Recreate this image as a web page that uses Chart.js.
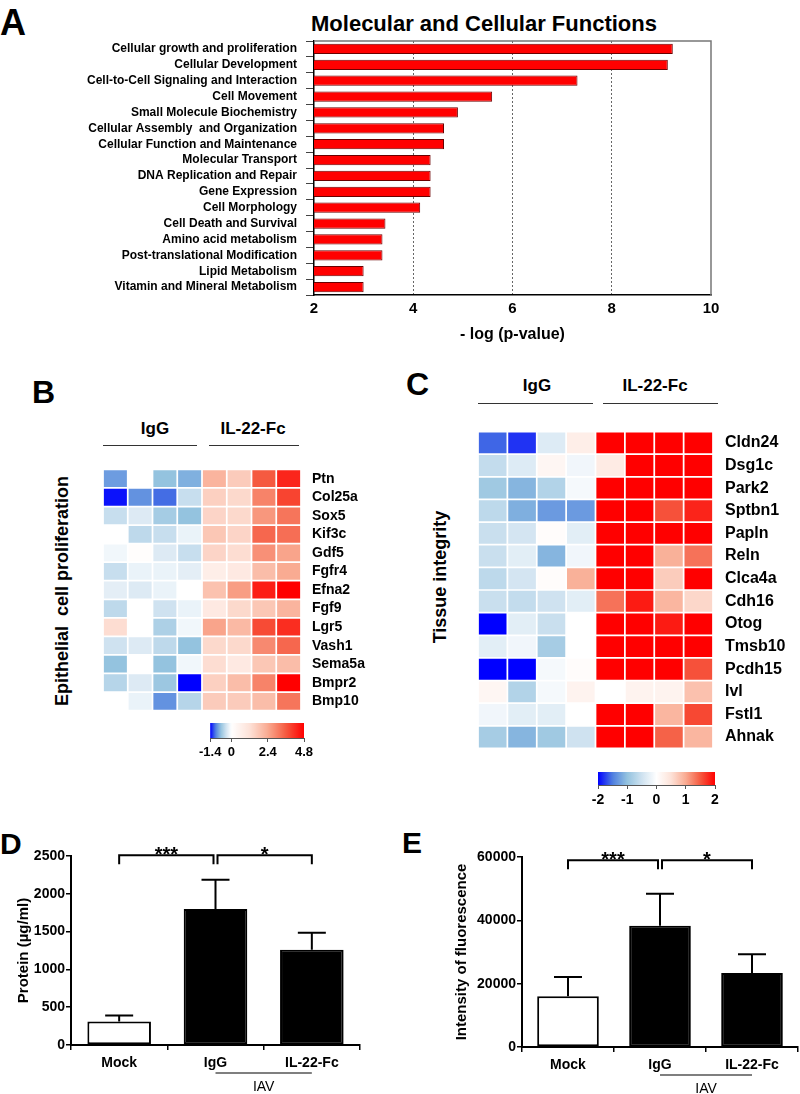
<!DOCTYPE html>
<html>
<head>
<meta charset="utf-8">
<script src="https://cdn.jsdelivr.net/npm/chart.js@4.4.1/dist/chart.umd.min.js"></script>
<style>
  body { margin: 0; background: #fff; }
  #page { position: relative; width: 800px; height: 1094px; overflow: hidden;
          font-family: 'Liberation Sans', Arial, sans-serif; color: #000; }
  canvas { position: absolute; }
  .t { position: absolute; white-space: nowrap; line-height: 1; font-weight: bold; }
  .c { transform: translate(-50%, -50%); }
  .r { transform: translate(-50%, -50%) rotate(-90deg); }
  .ln { position: absolute; height: 0; border-top: 1.5px solid #333; }
</style>
</head>
<body>
<div id="page">
  <!-- panel letters -->
  <div class="t" style="left:0;top:5px;font-size:36px">A</div>
  <div class="t" style="left:32px;top:376px;font-size:32px">B</div>
  <div class="t" style="left:406px;top:368px;font-size:32px">C</div>
  <div class="t" style="left:0;top:829px;font-size:30px">D</div>
  <div class="t" style="left:402px;top:828px;font-size:30px">E</div>

  <!-- A -->
  <div class="t c" style="left:484px;top:24px;font-size:22px">Molecular and Cellular Functions</div>
  <canvas id="chartA" width="800" height="345" style="left:0;top:0"></canvas>

  <!-- B -->
  <div class="t c" style="left:155px;top:428px;font-size:17px">IgG</div>
  <div class="t c" style="left:253px;top:428px;font-size:17px">IL-22-Fc</div>
  <div class="ln" style="left:103px;top:445px;width:94px"></div>
  <div class="ln" style="left:209px;top:445px;width:90px"></div>
  <div class="t r" style="left:62px;top:591px;font-size:18px">Epithelial&nbsp; cell proliferation</div>
  <canvas id="heatB" width="400" height="280" style="left:0;top:450px"></canvas>
  <canvas id="barB" width="124" height="42" style="left:196px;top:723px"></canvas>

  <!-- C -->
  <div class="t c" style="left:537px;top:385px;font-size:17px">IgG</div>
  <div class="t c" style="left:655px;top:385px;font-size:17px">IL-22-Fc</div>
  <div class="ln" style="left:478px;top:403px;width:115px"></div>
  <div class="ln" style="left:603px;top:403px;width:115px"></div>
  <div class="t r" style="left:440px;top:577px;font-size:18px">Tissue integrity</div>
  <canvas id="heatC" width="400" height="360" style="left:400px;top:410px"></canvas>
  <canvas id="barC" width="140" height="40" style="left:588px;top:772px"></canvas>

  <!-- D, E -->
  <canvas id="chartD" width="400" height="264" style="left:0;top:830px"></canvas>
  <canvas id="chartE" width="360" height="264" style="left:440px;top:830px"></canvas>
</div>

<script>
// ---- data ----
const functionNames = [
  'Cellular growth and proliferation', 'Cellular Development', 'Cell-to-Cell Signaling and Interaction',
  'Cell Movement', 'Small Molecule Biochemistry', 'Cellular Assembly  and Organization',
  'Cellular Function and Maintenance', 'Molecular Transport', 'DNA Replication and Repair',
  'Gene Expression', 'Cell Morphology', 'Cell Death and Survival', 'Amino acid metabolism',
  'Post-translational Modification', 'Lipid Metabolism', 'Vitamin and Mineral Metabolism'
];
const logPValues = [9.23, 9.13, 7.31, 5.59, 4.90, 4.62, 4.62, 4.35, 4.35, 4.35, 4.14, 3.44, 3.38, 3.38, 3.00, 3.00];
const logPTicks = [2, 10];

// columns: 4 x IgG, 4 x IL-22-Fc
const prolifGenes = ['Ptn', 'Col25a', 'Sox5', 'Kif3c', 'Gdf5', 'Fgfr4', 'Efna2', 'Fgf9', 'Lgr5', 'Vash1', 'Sema5a', 'Bmpr2', 'Bmp10'];
const prolifValues = [
  [-0.9, 0, -0.7, -0.8, 2.2, 1.7, 3.6, 4.3],
  [-1.35, -0.95, -1.1, -0.4, 1.6, 1.4, 3.0, 3.9],
  [-0.4, -0.25, -0.6, -0.7, 1.5, 1.4, 2.7, 3.2],
  [0, -0.45, -0.4, -0.15, 1.8, 1.5, 3.4, 3.3],
  [-0.1, 0.1, -0.25, -0.4, 1.5, 1.3, 2.8, 2.5],
  [-0.4, -0.15, -0.15, -0.2, 0.7, 0.9, 2.0, 2.4],
  [-0.2, -0.25, -0.15, 0, 1.9, 2.6, 4.4, 4.8],
  [-0.45, 0, -0.35, -0.15, 0.9, 1.4, 1.8, 2.2],
  [1.3, 0, -0.55, -0.1, 2.5, 2.1, 3.8, 4.2],
  [-0.35, -0.25, -0.45, -0.7, 1.4, 1.4, 2.9, 3.4],
  [-0.7, 0, -0.7, -0.1, 1.3, 0.9, 1.8, 2.0],
  [-0.5, -0.25, -0.65, -1.4, 1.6, 2.0, 3.0, 4.8],
  [0, -0.15, -0.95, -0.5, 1.7, 1.7, 2.0, 3.2]
];
const prolifRange = [-1.4, 4.8];
const prolifTicks = [-1.4, 0, 2.4, 4.8];

const integrityGenes = ['Cldn24', 'Dsg1c', 'Park2', 'Sptbn1', 'Papln', 'Reln', 'Clca4a', 'Cdh16', 'Otog', 'Tmsb10', 'Pcdh15', 'Ivl', 'Fstl1', 'Ahnak'];
const integrityValues = [
  [-1.6, -1.8, -0.35, 0.3, 2, 2, 2, 2],
  [-0.6, -0.35, 0.15, -0.15, 0.35, 2, 2, 2],
  [-0.9, -1.1, -0.75, -0.1, 2, 2, 2, 2],
  [-0.65, -1.15, -1.3, -1.3, 2, 2, 1.55, 1.8],
  [-0.55, -0.45, 0.05, -0.3, 2, 2, 2, 2],
  [-0.55, -0.3, -1.1, -0.15, 2, 2, 0.95, 1.35],
  [-0.65, -0.45, 0.05, 0.95, 2, 2, 0.7, 2],
  [-0.55, -0.6, -0.5, -0.3, 1.35, 1.85, 0.9, 0.6],
  [-2, -0.3, -0.55, 0, 2, 2, 1.85, 2],
  [-0.3, -0.15, -0.85, 0, 2, 2, 2, 2],
  [-2, -2, -0.1, 0.05, 2, 2, 2, 1.55],
  [0.15, -0.75, -0.1, 0.2, 0, 0.2, 0.2, 0.8],
  [-0.15, -0.3, -0.3, 0, 2, 2, 0.9, 1.6],
  [-0.85, -1.1, -0.9, -0.5, 2, 2, 1.45, 0.9]
];
const integrityRange = [-2, 2];
const integrityTicks = [-2, -1, 0, 1, 2];

const groups = ['Mock', 'IgG', 'IL-22-Fc'];
const proteinMean = [310, 1800, 1260];
const proteinErr = [80, 385, 225];
const fluorMean = [16000, 38300, 23400];
const fluorErr = [6100, 10100, 5900];
const comparisons = [[0, 1, '***'], [1, 2, '*']];

// ---- helpers ----
const FONT = "'Liberation Sans', Arial, sans-serif";
Chart.defaults.font.family = FONT;
Chart.defaults.color = '#000';

const heatStops = [
  [-1, [0, 0, 255]], [-0.75, [79, 127, 224]], [-0.5, [148, 195, 223]], [-0.25, [207, 226, 240]],
  [0, [255, 255, 255]], [0.25, [253, 226, 216]], [0.5, [249, 171, 146]], [0.75, [245, 90, 64]], [1, [255, 0, 0]]
];

function heatColor(v, lo, hi) {
  let t = v < 0 ? v / Math.abs(lo) : v / hi;
  t = Math.max(-1, Math.min(1, t));
  for (let i = 1; i < heatStops.length; i++) {
    const [t1, c1] = heatStops[i];
    const [t0, c0] = heatStops[i - 1];
    if (t <= t1) {
      const f = (t - t0) / (t1 - t0);
      const c = c0.map((x, k) => Math.round(x + (c1[k] - x) * f));
      return `rgb(${c[0]},${c[1]},${c[2]})`;
    }
  }
  return 'rgb(255,0,0)';
}

const noPlugins = { legend: { display: false }, tooltip: { enabled: false } };
const plainNumber = v => String(v);

// ---- A: horizontal bars ----
const frameA = {
  id: 'frameA',
  afterDraw(chart) {
    const { ctx, chartArea: { left, right, top, bottom } } = chart;
    ctx.save();
    ctx.strokeStyle = '#777';
    ctx.lineWidth = 1.5;
    ctx.beginPath();
    ctx.moveTo(left, top);
    ctx.lineTo(right, top);
    ctx.lineTo(right, bottom);
    ctx.stroke();
    ctx.restore();
  }
};

new Chart(document.getElementById('chartA'), {
  type: 'bar',
  data: {
    labels: functionNames,
    datasets: [{
      data: logPValues,
      backgroundColor: '#ff0000',
      borderColor: '#6a0000',
      borderWidth: 1,
      borderSkipped: false,
      barPercentage: 0.64,
      categoryPercentage: 1
    }]
  },
  options: {
    indexAxis: 'y',
    responsive: false,
    animation: false,
    layout: { padding: { top: 41, right: 89, left: 0, bottom: 0 } },
    plugins: noPlugins,
    scales: {
      x: {
        min: 2, max: 10,
        ticks: { stepSize: 2, font: { weight: 'bold', size: 15 }, padding: 5 },
        grid: {
          drawTicks: false,
          color: ctx => logPTicks.includes(ctx.tick && ctx.tick.value) ? 'rgba(0,0,0,0)' : '#666',
          lineWidth: 1
        },
        border: { display: true, color: '#000', width: 1.5, dash: [2, 2] },
        title: { display: true, text: '- log (p-value)', font: { weight: 'bold', size: 16 }, padding: { top: 0, bottom: 1 } },
        afterFit: s => { s.height = 50; }
      },
      y: {
        ticks: { font: { weight: 'bold', size: 12 }, padding: 9, autoSkip: false },
        grid: { drawOnChartArea: false, drawTicks: true, tickLength: 8, color: '#444' },
        border: { display: true, color: '#000', width: 1.5 },
        afterFit: s => { s.width = 314; }
      }
    }
  },
  plugins: [frameA]
});

// ---- B, C: heatmaps as stacked cell bars ----
function drawHeatmap(id, genes, values, range, cfg) {
  const datasets = values[0].map((_, j) => ({
    data: genes.map(() => 1),
    backgroundColor: values.map(row => heatColor(row[j], range[0], range[1])),
    borderColor: '#fff',
    borderWidth: 1.2,
    borderSkipped: false,
    barPercentage: 1,
    categoryPercentage: 1
  }));
  new Chart(document.getElementById(id), {
    type: 'bar',
    data: { labels: genes, datasets },
    options: {
      indexAxis: 'y',
      responsive: false,
      animation: false,
      layout: { padding: cfg.padding },
      plugins: noPlugins,
      scales: {
        x: { stacked: true, display: false, min: 0, max: values[0].length },
        y: {
          stacked: true,
          position: 'right',
          grid: { display: false, drawTicks: false },
          border: { display: false },
          ticks: { font: { weight: 'bold', size: cfg.fontSize }, padding: cfg.labelPad, autoSkip: false },
          afterFit: s => { s.width = cfg.axisWidth; }
        }
      }
    }
  });
}

const gradientFill = {
  id: 'gradientFill',
  beforeDatasetsDraw(chart) {
    const { ctx, chartArea: { left, right, top, bottom }, scales: { x } } = chart;
    const g = ctx.createLinearGradient(left, 0, right, 0);
    const n = 60;
    for (let k = 0; k <= n; k++) {
      const v = x.min + (x.max - x.min) * k / n;
      g.addColorStop(k / n, heatColor(v, x.min, x.max));
    }
    ctx.save();
    ctx.fillStyle = g;
    ctx.fillRect(left, top, right - left, bottom - top);
    ctx.restore();
  }
};

function drawColorbar(id, range, tickValues, padding, fontSize) {
  new Chart(document.getElementById(id), {
    type: 'scatter',
    data: { datasets: [] },
    options: {
      responsive: false,
      animation: false,
      layout: { padding },
      plugins: noPlugins,
      scales: {
        x: {
          type: 'linear', min: range[0], max: range[1],
          afterBuildTicks: s => { s.ticks = tickValues.map(v => ({ value: v })); },
          ticks: { font: { weight: 'bold', size: fontSize }, padding: 3, callback: plainNumber },
          grid: { drawOnChartArea: false, drawTicks: true, tickLength: 4, color: '#555' },
          border: { display: true, color: '#555' },
          afterFit: s => { s.height = 27; }
        },
        y: { display: false, min: 0, max: 1 }
      }
    },
    plugins: [gradientFill]
  });
}

drawHeatmap('heatB', prolifGenes, prolifValues, prolifRange,
  { padding: { left: 103, top: 10, bottom: 16, right: 0 }, axisWidth: 99, fontSize: 14, labelPad: 11 });
drawColorbar('barB', prolifRange, prolifTicks, { left: 10, right: 16, top: 0, bottom: 0 }, 13);

drawHeatmap('heatC', integrityGenes, integrityValues, integrityRange,
  { padding: { left: 78, top: 13, bottom: 16, right: 0 }, axisWidth: 87, fontSize: 16, labelPad: 12 });
drawColorbar('barC', integrityRange, integrityTicks, { left: 10, right: 13, top: 0, bottom: 0 }, 14);

// ---- D, E: group bars with error bars and brackets ----
const errorBars = {
  id: 'errorBars',
  afterDatasetsDraw(chart) {
    const { ctx, scales: { y } } = chart;
    const ds = chart.data.datasets[0];
    ctx.save();
    ctx.strokeStyle = '#000';
    ctx.lineWidth = 2;
    chart.getDatasetMeta(0).data.forEach((bar, i) => {
      const top = y.getPixelForValue(ds.data[i] + ds.errors[i]);
      ctx.beginPath();
      ctx.moveTo(bar.x, bar.y);
      ctx.lineTo(bar.x, top);
      ctx.moveTo(bar.x - 14, top);
      ctx.lineTo(bar.x + 14, top);
      ctx.stroke();
    });
    ctx.restore();
  }
};

const brackets = {
  id: 'brackets',
  afterDraw(chart, args, opts) {
    const { ctx, scales: { x, y }, chartArea } = chart;
    const yb = y.getPixelForValue(opts.level);
    const xs = groups.map((g, i) => x.getPixelForValue(i));
    ctx.save();
    ctx.strokeStyle = '#000';
    ctx.fillStyle = '#000';
    ctx.lineWidth = 2;
    ctx.textAlign = 'center';
    comparisons.forEach(([a, b, stars]) => {
      const xa = xs[a] + (a === 1 ? 2 : 0);
      const xb = xs[b] - (b === 1 ? 2 : 0);
      ctx.beginPath();
      ctx.moveTo(xa, yb + 9);
      ctx.lineTo(xa, yb);
      ctx.lineTo(xb, yb);
      ctx.lineTo(xb, yb + 9);
      ctx.stroke();
      ctx.font = `bold 20px ${FONT}`;
      ctx.textBaseline = 'alphabetic';
      ctx.fillText(stars, (xa + xb) / 2, yb + 6);
    });
    // IAV group line
    const yi = chartArea.bottom + 28;
    ctx.lineWidth = 1.2;
    ctx.beginPath();
    ctx.moveTo(xs[1], yi);
    ctx.lineTo(xs[2], yi);
    ctx.stroke();
    ctx.font = `14px ${FONT}`;
    ctx.textBaseline = 'middle';
    ctx.fillText('IAV', (xs[1] + xs[2]) / 2, yi + 14);
    ctx.restore();
  }
};

function drawGroupChart(id, means, errs, yMax, step, cfg) {
  new Chart(document.getElementById(id), {
    type: 'bar',
    data: {
      labels: groups,
      datasets: [{
        data: means,
        errors: errs,
        backgroundColor: ['#fff', '#000', '#000'],
        borderColor: '#000',
        borderWidth: 2,
        borderSkipped: false,
        barPercentage: cfg.barPct,
        categoryPercentage: 1
      }]
    },
    options: {
      responsive: false,
      animation: false,
      layout: { padding: cfg.padding },
      plugins: Object.assign({ brackets: { level: cfg.bracketLevel } }, noPlugins),
      scales: {
        x: {
          ticks: { font: { weight: 'bold', size: 14 }, padding: 5 },
          grid: { drawOnChartArea: false, drawTicks: true, tickLength: 5, color: '#000', lineWidth: 1.5 },
          border: { display: true, color: '#000', width: 2 },
          afterFit: s => { s.height = cfg.xHeight; }
        },
        y: {
          min: 0, max: yMax,
          ticks: { stepSize: step, font: { weight: 'bold', size: 14 }, padding: 1, callback: plainNumber },
          grid: { drawOnChartArea: false, drawTicks: true, tickLength: 5, color: '#000', lineWidth: 1.5 },
          border: { display: true, color: '#000', width: 2 },
          title: { display: true, text: cfg.title, font: { weight: 'bold', size: 15 }, padding: { top: cfg.titlePad } },
          afterFit: s => { s.width = cfg.yWidth; }
        }
      }
    },
    plugins: [errorBars, brackets]
  });
}

drawGroupChart('chartD', proteinMean, proteinErr, 2500, 500, {
  padding: { top: 26, right: 40, left: 0, bottom: 0 }, yWidth: 71, xHeight: 49,
  barPct: 0.66, bracketLevel: 2510, title: 'Protein (µg/ml)', titlePad: 15
});
drawGroupChart('chartE', fluorMean, fluorErr, 60000, 20000, {
  padding: { top: 27, right: 2, left: 0, bottom: 0 }, yWidth: 82, xHeight: 47,
  barPct: 0.67, bracketLevel: 59000, title: 'Intensity of fluorescence', titlePad: 13
});
</script>
</body>
</html>
